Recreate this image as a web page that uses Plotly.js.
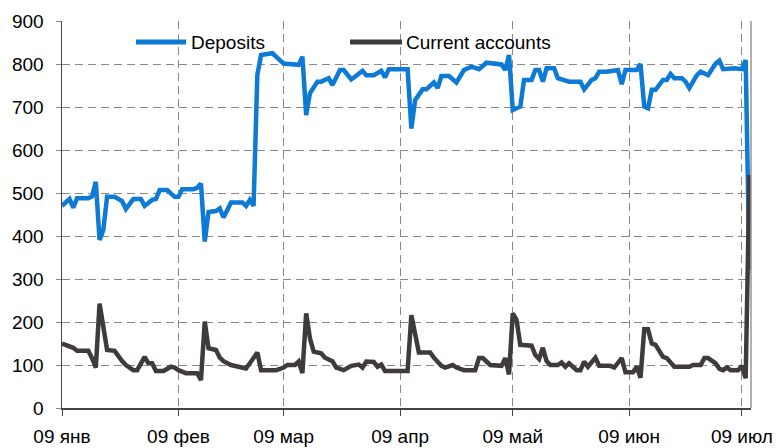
<!DOCTYPE html>
<html>
<head>
<meta charset="utf-8">
<script src="https://cdn.plot.ly/plotly-3.0.1.min.js"></script>
<style>html,body{margin:0;padding:0;background:#fff;}#chart{width:777px;height:448px;}</style>
</head>
<body>
<div id="chart"></div>
<script>
var depDates = ["2009-01-01","2009-01-03","2009-01-04","2009-01-05","2009-01-08","2009-01-09","2009-01-10","2009-01-11","2009-01-12","2009-01-13","2009-01-15","2009-01-17","2009-01-18","2009-01-20","2009-01-22","2009-01-23","2009-01-25","2009-01-26","2009-01-27","2009-01-29","2009-01-31","2009-02-01","2009-02-02","2009-02-05","2009-02-06","2009-02-07","2009-02-08","2009-02-09","2009-02-11","2009-02-12","2009-02-13","2009-02-15","2009-02-18","2009-02-19","2009-02-20","2009-02-21","2009-02-22","2009-02-23","2009-02-26","2009-03-01","2009-03-05","2009-03-06","2009-03-07","2009-03-08","2009-03-10","2009-03-11","2009-03-13","2009-03-14","2009-03-16","2009-03-17","2009-03-19","2009-03-22","2009-03-23","2009-03-25","2009-03-27","2009-03-28","2009-03-29","2009-04-03","2009-04-04","2009-04-05","2009-04-07","2009-04-08","2009-04-10","2009-04-11","2009-04-12","2009-04-14","2009-04-16","2009-04-18","2009-04-20","2009-04-22","2009-04-24","2009-04-28","2009-04-29","2009-04-30","2009-05-01","2009-05-03","2009-05-04","2009-05-06","2009-05-07","2009-05-08","2009-05-09","2009-05-10","2009-05-12","2009-05-13","2009-05-16","2009-05-19","2009-05-20","2009-05-22","2009-05-23","2009-05-24","2009-05-26","2009-05-28","2009-05-29","2009-05-30","2009-05-31","2009-06-03","2009-06-04","2009-06-05","2009-06-06","2009-06-07","2009-06-08","2009-06-10","2009-06-11","2009-06-12","2009-06-13","2009-06-15","2009-06-16","2009-06-17","2009-06-19","2009-06-20","2009-06-22","2009-06-24","2009-06-25","2009-06-26","2009-06-29","2009-07-01","2009-07-02","2009-07-03"];
var deposits = [470,486,466,488,488,492,526,391,414,491,491,481,463,486,486,470,484,486,507,507,491,491,509,509,512,522,387,456,458,464,443,478,478,470,484,470,775,821,825,801,798,817,681,732,759,759,767,751,786,786,764,784,774,774,784,769,788,788,650,716,741,741,757,744,772,772,757,786,794,788,803,799,786,821,693,701,763,763,786,786,759,790,790,767,759,759,741,763,767,782,782,786,786,753,786,786,800,701,697,740,740,763,763,777,767,767,759,744,774,782,774,801,808,788,790,788,809,321];

var curDates = ["2009-01-01","2009-01-03","2009-01-04","2009-01-05","2009-01-08","2009-01-09","2009-01-10","2009-01-11","2009-01-12","2009-01-13","2009-01-15","2009-01-16","2009-01-17","2009-01-18","2009-01-20","2009-01-21","2009-01-23","2009-01-24","2009-01-25","2009-01-26","2009-01-28","2009-01-30","2009-01-31","2009-02-01","2009-02-03","2009-02-06","2009-02-07","2009-02-08","2009-02-09","2009-02-11","2009-02-12","2009-02-13","2009-02-15","2009-02-17","2009-02-19","2009-02-20","2009-02-22","2009-02-23","2009-02-27","2009-03-01","2009-03-02","2009-03-04","2009-03-05","2009-03-06","2009-03-07","2009-03-08","2009-03-09","2009-03-11","2009-03-12","2009-03-14","2009-03-15","2009-03-17","2009-03-19","2009-03-21","2009-03-22","2009-03-23","2009-03-25","2009-03-26","2009-03-27","2009-03-28","2009-04-03","2009-04-04","2009-04-05","2009-04-06","2009-04-09","2009-04-10","2009-04-12","2009-04-13","2009-04-15","2009-04-16","2009-04-18","2009-04-21","2009-04-22","2009-04-23","2009-04-25","2009-04-28","2009-04-29","2009-04-30","2009-05-01","2009-05-02","2009-05-03","2009-05-06","2009-05-07","2009-05-08","2009-05-09","2009-05-10","2009-05-11","2009-05-13","2009-05-14","2009-05-15","2009-05-16","2009-05-17","2009-05-18","2009-05-19","2009-05-20","2009-05-21","2009-05-23","2009-05-24","2009-05-27","2009-05-28","2009-05-30","2009-05-31","2009-06-02","2009-06-03","2009-06-04","2009-06-05","2009-06-06","2009-06-07","2009-06-08","2009-06-10","2009-06-11","2009-06-13","2009-06-17","2009-06-18","2009-06-20","2009-06-21","2009-06-22","2009-06-24","2009-06-25","2009-06-26","2009-06-27","2009-06-28","2009-06-30","2009-07-01","2009-07-02","2009-07-03"];
var currentAccounts = [150,145,140,133,133,116,94,243,189,135,133,119,109,100,88,88,119,104,104,86,86,96,94,88,81,81,65,201,139,135,117,109,100,96,92,104,129,88,88,94,100,100,108,81,220,162,131,127,117,109,94,88,98,101,94,108,107,96,101,86,86,216,170,129,129,117,98,94,100,94,88,88,116,116,100,98,116,78,220,205,147,145,123,114,140,109,100,100,106,96,104,96,88,88,108,96,117,98,98,94,116,83,83,96,70,183,183,150,147,119,116,96,96,100,100,116,116,104,91,88,94,88,88,98,69,542];

var tickDates = ["2009-01-01","2009-02-01","2009-03-01","2009-04-01","2009-05-01","2009-06-01","2009-07-01"];
var tickLabels = ["09 янв","09 фев","09 мар","09 апр","09 май","09 июн","09 июл"];
var seriesNames = ["Deposits","Current accounts"];
var colors = ["#0d7ad6","#3f3b3d"];

var FONT = "Liberation Sans, Arial, sans-serif";
// plot box in px: left 62, right 751, top 21, bottom 408
function px(x){ return (x-62)/689; }
function py(y){ return (408-y)/387; }

var traces = [
  {x: depDates, y: deposits, type: "scatter", mode: "lines", name: seriesNames[0],
   line: {color: colors[0], width: 4.5}},
  {x: curDates, y: currentAccounts, type: "scatter", mode: "lines", name: seriesNames[1],
   line: {color: colors[1], width: 4.5}}
];

var layout = {
  width: 777, height: 448,
  margin: {l: 62, r: 26, t: 21, b: 40},
  paper_bgcolor: "#fff", plot_bgcolor: "#fff",
  showlegend: false,
  font: {family: FONT, size: 19, color: "#000"},
  xaxis: {
    type: "date",
    range: ["2009-01-01", "2009-07-03 10:00"],
    tickvals: tickDates, ticktext: tickLabels,
    ticks: "outside", ticklen: 6, tickcolor: "#444", tickwidth: 1,
    ticklabelstandoff: 5,
    showgrid: true, gridcolor: "#8a8587", griddash: "8px,5px", gridwidth: 1,
    showline: true, linecolor: "#444", linewidth: 1.5,
    tickfont: {family: FONT, size: 19, color: "#000"},
    zeroline: false, fixedrange: true
  },
  yaxis: {
    range: [0, 900], dtick: 100, tick0: 0,
    ticks: "outside", ticklen: 5, tickcolor: "#8a8587",
    ticklabelstandoff: 8,
    showgrid: true, gridcolor: "#8a8587", griddash: "8px,5px", gridwidth: 1,
    showline: true, linecolor: "#444", linewidth: 1.5,
    tickfont: {family: FONT, size: 19, color: "#000"},
    zeroline: false, fixedrange: true
  },
  shapes: [
    {type: "line", xref: "paper", yref: "paper", x0: 1, x1: 1, y0: 0, y1: 1,
     line: {color: "#9a9597", width: 1.5}},
    {type: "rect", xref: "paper", yref: "paper", layer: "between",
     x0: px(128), x1: px(578), y0: py(61), y1: py(30),
     fillcolor: "#fff", line: {width: 0}},
    {type: "line", xref: "paper", yref: "paper", x0: px(136), x1: px(186), y0: py(42), y1: py(42),
     line: {color: colors[0], width: 5}},
    {type: "line", xref: "paper", yref: "paper", x0: px(350), x1: px(402), y0: py(42), y1: py(42),
     line: {color: colors[1], width: 5}}
  ],
  annotations: [
    {xref: "paper", yref: "paper", x: px(189), y: py(43), xanchor: "left", yanchor: "middle",
     text: seriesNames[0], showarrow: false, font: {family: FONT, size: 19, color: "#000"}},
    {xref: "paper", yref: "paper", x: px(404), y: py(43), xanchor: "left", yanchor: "middle",
     text: seriesNames[1], showarrow: false, font: {family: FONT, size: 19, color: "#000"}}
  ]
};

Plotly.newPlot("chart", traces, layout, {staticPlot: true, displayModeBar: false});
</script>
</body>
</html>
